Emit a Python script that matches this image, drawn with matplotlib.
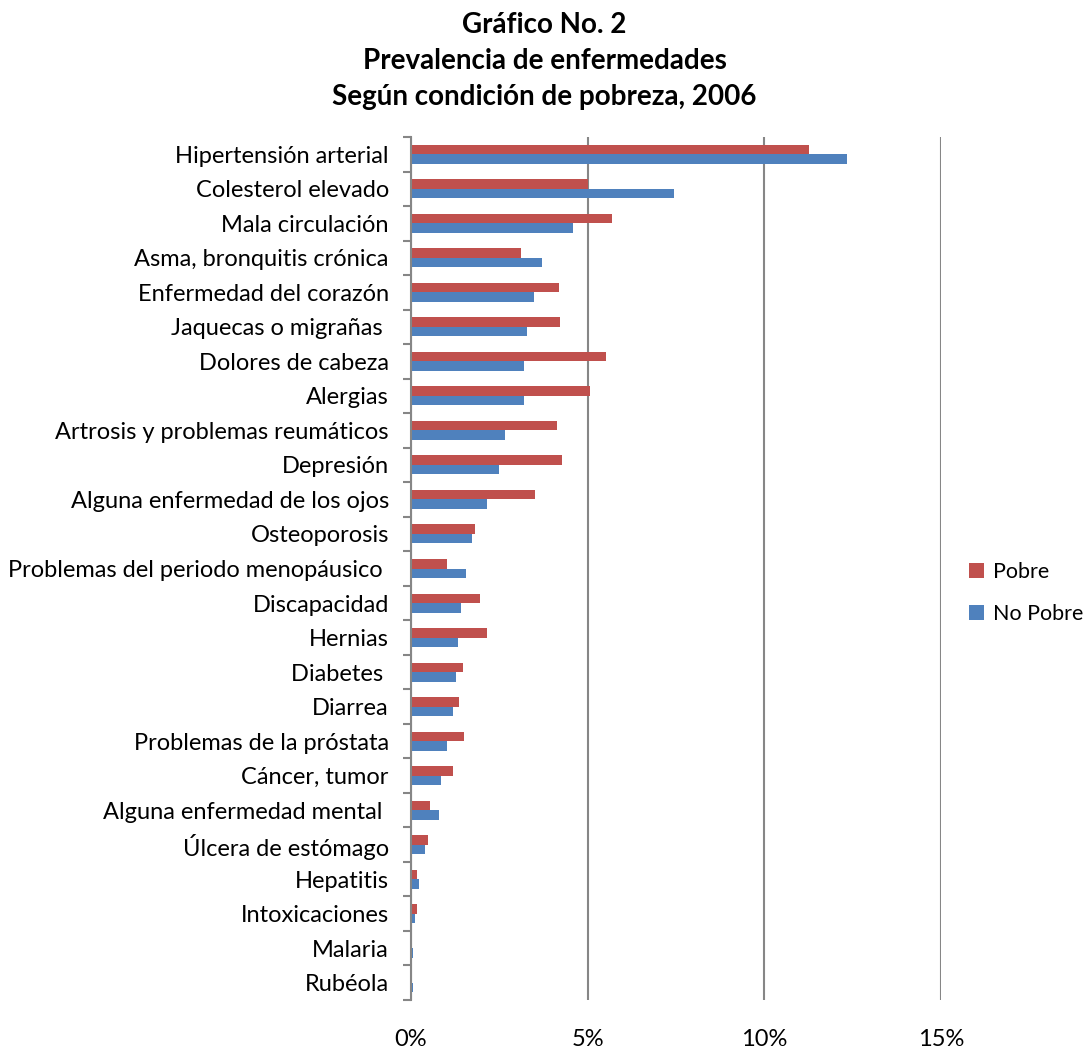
import numpy as np
import matplotlib
matplotlib.use('Agg')
import matplotlib.pyplot as plt
from matplotlib.ticker import FixedLocator, PercentFormatter

plt.rcParams['font.family'] = ['Lato', 'DejaVu Sans']

# ------------------------------- data ------------------------------- #
categorias = ['Hipertensión arterial', 'Colesterol elevado', 'Mala circulación',
              'Asma, bronquitis crónica', 'Enfermedad del corazón',
              'Jaquecas o migrañas ', 'Dolores de cabeza', 'Alergias',
              'Artrosis y problemas reumáticos', 'Depresión',
              'Alguna enfermedad de los ojos', 'Osteoporosis',
              'Problemas del periodo menopáusico ', 'Discapacidad', 'Hernias',
              'Diabetes ', 'Diarrea', 'Problemas de la próstata', 'Cáncer, tumor',
              'Alguna enfermedad mental ', 'Úlcera de estómago', 'Hepatitis',
              'Intoxicaciones', 'Malaria', 'Rubéola']
pobre = [11.27, 5.00, 5.70, 3.11, 4.18, 4.23, 5.52, 5.08, 4.14, 4.27, 3.52,
         1.82, 1.02, 1.96, 2.14, 1.47, 1.37, 1.51, 1.20, 0.53, 0.48, 0.17,
         0.17, 0.04, 0.00]
no_pobre = [12.33, 7.44, 4.58, 3.70, 3.47, 3.29, 3.20, 3.20, 2.67, 2.49, 2.14,
            1.73, 1.55, 1.42, 1.33, 1.28, 1.20, 1.02, 0.84, 0.79, 0.40, 0.22,
            0.12, 0.05, 0.05]
xticks = [0, 5, 10, 15]

# ------------------------------- plot ------------------------------- #
fig = plt.figure(figsize=(10.89, 10.50), dpi=100)
ax = fig.add_axes([411/1089, 1-1000/1050, 530/1089, 863/1050])

n = len(categorias)
y = np.arange(n)
h = 0.275
red, blue = '#C0504D', '#4F81BD'
ax.barh(y - h/2, pobre, height=h, color=red, label='Pobre', zorder=3)
ax.barh(y + h/2, no_pobre, height=h, color=blue, label='No Pobre', zorder=3)

ax.set_ylim(n - 0.5, -0.5)
ax.set_xlim(0, 15)
ax.set_yticks(y)
ax.set_yticklabels(categorias, fontsize=17)
ax.yaxis.set_minor_locator(FixedLocator(np.arange(n + 1) - 0.5))
ax.tick_params(axis='y', which='major', length=0, pad=16)
ax.tick_params(axis='y', which='minor', length=6, width=1.5, color='#868686')

ax.set_xticks(xticks)
ax.xaxis.set_major_formatter(PercentFormatter(decimals=0))
ax.tick_params(axis='x', length=0, labelsize=17, pad=21)
ax.grid(axis='x', color='#868686', linewidth=1.5, zorder=0)

for s in ['top', 'right', 'bottom']:
    ax.spines[s].set_visible(False)
ax.spines['left'].set_color('#868686')
ax.spines['left'].set_linewidth(1.5)
ax.spines['left'].set_zorder(4)

titulo = ['Gráfico No. 2', 'Prevalencia de enfermedades',
          'Según condición de pobreza, 2006']
for t, yy in zip(titulo, [25, 61, 97]):
    fig.text(0.5, 1-yy/1050, t, ha='center', va='center',
             fontsize=20, fontweight='bold')

fig.legend(loc='center left', bbox_to_anchor=(969/1089, 1-593/1050),
           frameon=False, fontsize=15.5, handlelength=0.7, handleheight=0.7,
           handletextpad=0.4, labelspacing=1.0, borderaxespad=0,
           borderpad=0)

plt.savefig('out.png', dpi=100)
